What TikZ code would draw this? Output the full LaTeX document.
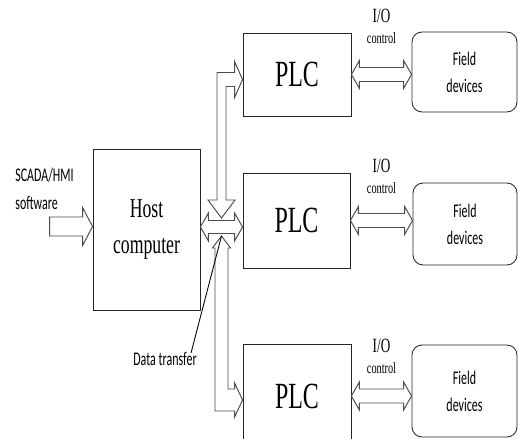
\documentclass[tikz,border=0pt]{standalone}
\usepackage{fontspec}
\setmainfont[FakeStretch=0.65]{Liberation Serif}
\newfontfamily\narrowsans[FakeStretch=0.62]{Carlito}
\usetikzlibrary{calc}
\tikzset{blk/.style={draw=black!85,line width=0.5pt,inner sep=0pt},
	fld/.style={blk,rounded corners=2mm,align=center,font=\narrowsans\fontsize{11}{15.5}\selectfont},
	fat/.style={draw=black!70,fill=white,line width=0.55pt},
	sf/.style={inner sep=0pt,font=\narrowsans\fontsize{11}{16}\selectfont}}

\begin{document}
\begin{tikzpicture}[x=0.02cm,y=-0.02cm]
	\useasboundingbox (0,0) rectangle (518,439);
	\clip (0,0) rectangle (518,439);
	
	\node[blk,minimum width=2.14cm,minimum height=3.22cm,align=center,font=\fontsize{15.5}{20}\selectfont] (host) at (146.5,229.5) {Host\\computer};
	\node[blk,minimum width=2.16cm,minimum height=1.66cm,font=\fontsize{21}{24}\selectfont] (plc1) at (297,74.5) {PLC};
	\node[blk,minimum width=2.14cm,minimum height=1.9cm,font=\fontsize{21}{24}\selectfont] (plc2) at (296.5,220.5) {PLC};
	\node[blk,minimum width=2.16cm,minimum height=2.08cm,font=\fontsize{21}{24}\selectfont] (plc3) at (297,396) {PLC};
	
	\node[fld,minimum width=2.1cm,minimum height=1.6cm] (field1) at (464.5,72) {Field\\devices};
	\node[fld,minimum width=2.08cm,minimum height=1.64cm] (field2) at (465,224) {Field\\devices};
	\node[fld,minimum width=2.1cm,minimum height=1.84cm] (field3) at (464.5,391) {Field\\devices};
	
	\node[sf,align=left,anchor=west] (scada) at (15,189) {SCADA/HMI\\software};
	\node[sf] (dt) at (165,359) {Data transfer};
	\coordinate (jn) at (221.5,227);
	
	% software into host
	\draw[fat] ($(host.west)+(0,-3)$) -- ++(-10,-19) -- ++(0,9.5) -- ++(-33,0) -- ++(0,19) -- ++(33,0) -- ++(0,9.5) -- cycle;
	
	% PLC <-> field devices
	\foreach \i/\d in {1/-52,2/-48,3/-43}{
		\draw[fat] (plc\i.east) -- ++(8,-14) -- ++(0,7) -- ($(field\i.west |- plc\i.east)+(-8,-7)$) -- ++(0,-7) -- (field\i.west |- plc\i.east) -- ++(-8,14) -- ++(0,-7) -- ($(plc\i.east)+(8,7)$) -- ++(0,7) -- cycle;
		\node[anchor=base,inner sep=0pt,font=\fontsize{11.5}{12}\selectfont] (io\i) at ($(plc\i.east)!0.5!(field\i.west |- plc\i.east)+(0,\d)$) {I/O};
		\node[anchor=base,inner sep=0pt,font=\fontsize{9}{10}\selectfont] (ctl\i) at ($(io\i.base)+(0,21)$) {control};
	}
	
	% data bus
	\draw[fat] (host.east |- jn) -- ++(8,-14) -- ++(0,7.5) -- ($(plc2.west |- jn)+(-8,-6.5)$) -- ++(0,-7.5) -- (plc2.west |- jn) -- ++(-8,14) -- ++(0,-7.5) -- ($(host.east |- jn)+(8,6.5)$) -- ++(0,7.5) -- cycle;
	\coordinate (ta) at ($(plc1.west)+(0,5)$);
	\draw[fat] (ta) -- ++(-8,-18) -- ++(0,11) -- ($(jn |- ta)+(-4.5,-7)$) -- ($(jn)+(-4.5,-27)$) -- ++(-9,0) -- ($(jn)+(0,-9)$) -- ++(13.5,-18) -- ++(-9,0) -- ($(jn |- ta)+(4.5,7)$) -- ($(ta)+(-8,7)$) -- ++(0,11) -- cycle;
	\coordinate (tc) at ($(plc3.west)+(0,4)$);
	\draw[fat] (tc) -- ++(-8,-17) -- ++(0,6) -- ($(jn |- tc)+(6.5,-11)$) -- ($(jn)+(6.5,21)$) -- ++(2.5,0) -- ($(jn)+(0,9)$) -- ++(-9,12) -- ++(2.5,0) -- ($(jn |- tc)+(-6.5,11)$) -- ($(tc)+(-8,11)$) -- ++(0,6) -- cycle;
	
	\draw[line width=0.5pt] ($(dt.north east)+(-6,1)$) -- ($(jn)+(0,9)$);
\end{tikzpicture}
\end{document}
